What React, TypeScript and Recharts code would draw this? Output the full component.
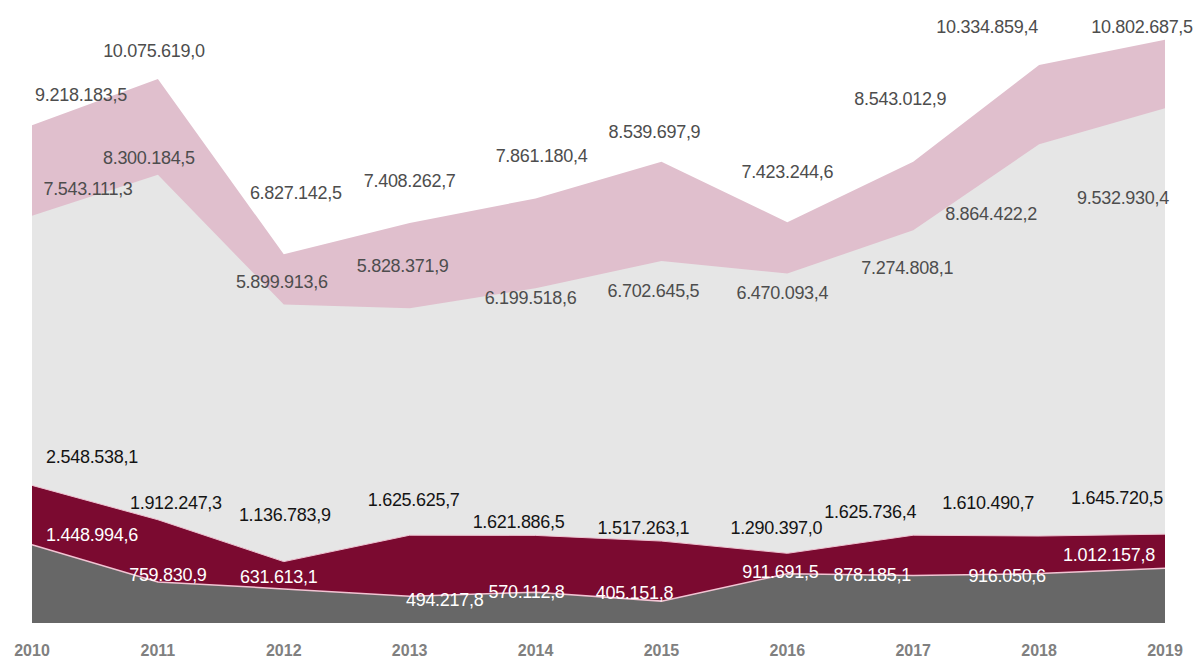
import { AreaChart, Area, XAxis, YAxis, LabelList } from 'recharts'

const YEARS = ['2010', '2011', '2012', '2013', '2014', '2015', '2016', '2017', '2018', '2019']

// four overlapping (not stacked) series
const TOTAL = [9218183.5, 10075619.0, 6827142.5, 7408262.7, 7861180.4, 8539697.9, 7423244.6, 8543012.9, 10334859.4, 10802687.5]
const MAIN = [7543111.3, 8300184.5, 5899913.6, 5828371.9, 6199518.6, 6702645.5, 6470093.4, 7274808.1, 8864422.2, 9532930.4]
const SECOND = [2548538.1, 1912247.3, 1136783.9, 1625625.7, 1621886.5, 1517263.1, 1290397.0, 1625736.4, 1610490.7, 1645720.5]
const BASE = [1448994.6, 759830.9, 631613.1, 494217.8, 570112.8, 405151.8, 911691.5, 878185.1, 916050.6, 1012157.8]

const data = YEARS.map((year, i) => ({
  year,
  total: TOTAL[i],
  main: MAIN[i],
  second: SECOND[i],
  base: BASE[i],
}))

// label nudges [dx, dy] relative to each point
const NUDGE_TOTAL = [[49, -30], [-4, -28], [12, -61], [0, -42], [6, -42], [-7, -30], [0, -50], [-13, -63], [-52, -38], [-23, -13]]
const NUDGE_MAIN = [[56, -27], [-9, -17], [-2, -22], [-7, -42], [-5, 10], [-8, 30], [-5, 19], [-6, 38], [-48, 70], [-42, 90]]
const NUDGE_SECOND = [[60, -28], [18, -17], [1, -47], [4, -35], [-17, -13], [-18, -13], [-11, -25], [-43, -23], [-51, -33], [-48, -36]]
const NUDGE_BASE = [[60, -10], [10, -7], [-5, -12], [35, 4], [-9, 0], [-27, -8], [-7, -2], [-41, -1], [-32, 2], [-56, -13]]

function fmt(v: number): string {
  const [int, dec] = v.toFixed(1).split('.')
  return int.replace(/\B(?=(\d{3})+(?!\d))/g, '.') + ',' + dec
}

function labelRenderer(nudge: number[][], color: string) {
  return (props: any) => {
    const { x, y, index, value } = props
    if (x == null || y == null) return null
    const [dx, dy] = nudge[index] ?? [0, -20]
    return (
      <text
        x={x + dx}
        y={y + dy}
        textAnchor="middle"
        dominantBaseline="central"
        fontSize={18}
        letterSpacing={-0.3}
        fill={color}
        fontFamily="'Liberation Sans', Arial, sans-serif"
      >
        {fmt(Number(value))}
      </text>
    )
  }
}

export default function App() {
  return (
    <div style={{ position: 'absolute', left: 0, top: 0, background: '#fff' }}>
      <AreaChart
        width={1200}
        height={661}
        data={data}
        margin={{ top: 2, right: 35, left: 32, bottom: 0 }}
      >
        <XAxis
          dataKey="year"
          axisLine={false}
          tickLine={false}
          interval={0}
          height={38}
          tickMargin={16}
          tick={{ fontSize: 16, fontWeight: 700, fill: '#808080', fontFamily: "'Liberation Sans', Arial, sans-serif" }}
        />
        <YAxis hide domain={[0, 11500000]} allowDataOverflow />

        <Area type="linear" dataKey="total" stroke="none" fill="#e0bfcd" fillOpacity={1} isAnimationActive={false}>
          <LabelList dataKey="total" content={labelRenderer(NUDGE_TOTAL, '#4d4d4d')} />
        </Area>
        <Area type="linear" dataKey="main" stroke="none" fill="#e6e6e6" fillOpacity={1} isAnimationActive={false}>
          <LabelList dataKey="main" content={labelRenderer(NUDGE_MAIN, '#4d4d4d')} />
        </Area>
        <Area type="linear" dataKey="second" stroke="#eec3d1" strokeWidth={1} fill="#7b0a30" fillOpacity={1} isAnimationActive={false}>
          <LabelList dataKey="second" content={labelRenderer(NUDGE_SECOND, '#141414')} />
        </Area>
        <Area type="linear" dataKey="base" stroke="#f2c4d3" strokeWidth={1.5} fill="#676767" fillOpacity={1} isAnimationActive={false}>
          <LabelList dataKey="base" content={labelRenderer(NUDGE_BASE, '#ffffff')} />
        </Area>
      </AreaChart>
    </div>
  )
}
